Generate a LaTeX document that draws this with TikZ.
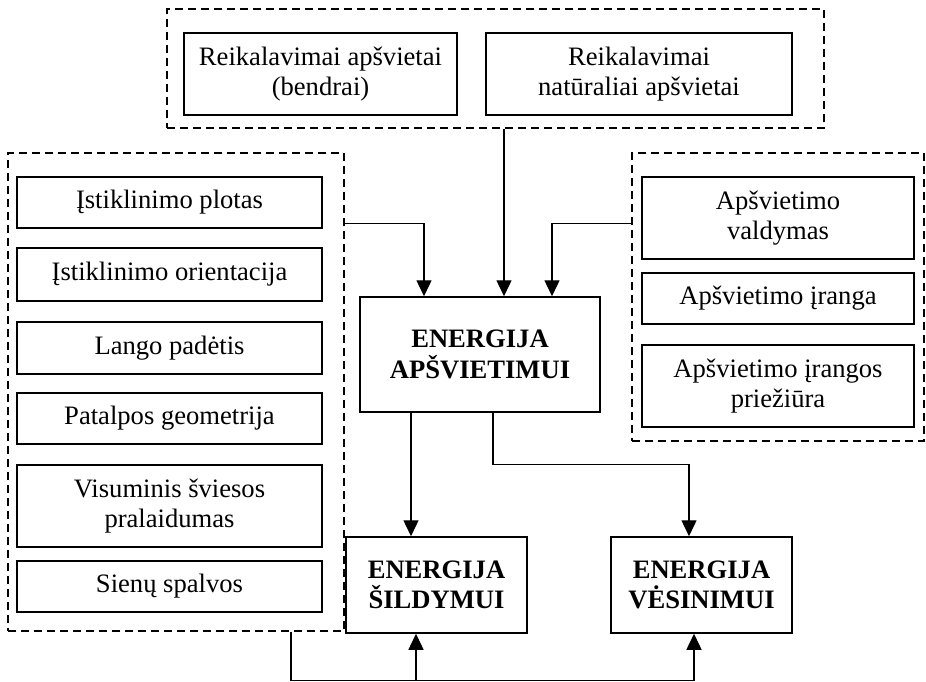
\documentclass[tikz,border=0pt]{standalone}
\usepackage{fontspec}
\setmainfont{Liberation Serif}
\usetikzlibrary{arrows.meta}

\begin{document}
\begin{tikzpicture}[x=1pt, y=-1pt,
        box/.style={draw, rectangle, line width=1.5pt, inner sep=0pt, align=center,
            font=\fontsize{26.6}{30.5}\selectfont},
        bold/.style={box, font=\fontsize{26.6}{30.5}\selectfont\bfseries},
        group/.style={draw, rectangle, line width=1.4pt, dash pattern=on 8pt off 5pt, inner sep=0pt},
        arr/.style={-{Triangle[length=16pt,width=15pt]}, line width=1.4pt}]
        \useasboundingbox (0,0) rectangle (926,682);

        % Dashed groups
        \node[group, minimum width=657pt, minimum height=119pt] (grpT) at (495.5,68.5) {};
        \node[group, minimum width=336pt, minimum height=478pt] (grpL) at (176,392) {};
        \node[group, minimum width=292pt, minimum height=288pt] (grpR) at (778,297) {};

        % Requirements
        \node[box, minimum width=273pt, minimum height=82pt] (reqGen) at (320.5,74) {Reikalavimai apšvietai\\(bendrai)};
        \node[box, minimum width=306pt, minimum height=82pt] (reqNat) at (639,74) {Reikalavimai\\natūraliai apšvietai};

        % Window and room factors
        \node[box, minimum width=305pt, minimum height=51pt] (glzArea) at (169.5,202.5) {Įstiklinimo plotas};
        \node[box, minimum width=305pt, minimum height=53pt] (glzOrient) at (169.5,274.5) {Įstiklinimo orientacija};
        \node[box, minimum width=305pt, minimum height=52pt] (winPos) at (169.5,348) {Lango padėtis};
        \node[box, minimum width=305pt, minimum height=51pt] (roomGeom) at (169.5,418.5) {Patalpos geometrija};
        \node[box, minimum width=305pt, minimum height=82pt] (lightTrans) at (169.5,506) {Visuminis šviesos\\pralaidumas};
        \node[box, minimum width=305pt, minimum height=51pt] (wallCol) at (169.5,586.5) {Sienų spalvos};

        % Lighting system factors
        \node[box, minimum width=272pt, minimum height=82pt] (ltCtrl) at (778,218) {Apšvietimo\\valdymas};
        \node[box, minimum width=272pt, minimum height=51pt] (ltEquip) at (778,298.5) {Apšvietimo įranga};
        \node[box, minimum width=272pt, minimum height=82pt] (ltMaint) at (778,386) {Apšvietimo įrangos\\priežiūra};

        % Energy boxes
        \node[bold, minimum width=240pt, minimum height=115pt] (apsv) at (480,354.5) {ENERGIJA\\APŠVIETIMUI};
        \node[bold, minimum width=181pt, minimum height=96pt] (heat) at (436.5,585) {ENERGIJA\\ŠILDYMUI};
        \node[bold, minimum width=181pt, minimum height=96pt] (cool) at (701.5,585) {ENERGIJA\\VĖSINIMUI};

        % Arrows into lighting energy
        \draw[arr] ([yshift=-71pt]grpL.north east) -| ([xshift=-56pt]apsv.north);
        \draw[arr] ([xshift=8.5pt]grpT.south) -- ([xshift=24pt]apsv.north);
        \draw[arr] ([yshift=-71pt]grpR.north west) -| ([xshift=72pt]apsv.north);

        % Arrows out of lighting energy
        \draw[arr] ([xshift=-69pt]apsv.south) -- ([xshift=-25.5pt]heat.north);
        \draw[arr] ([xshift=13pt]apsv.south) -- ++(0,52) -| ([xshift=-12.5pt]cool.north);

        % Arrows from the left group
        \draw[arr] ([xshift=115pt]grpL.south) -- ++(0,49) -| ([xshift=-7.5pt]cool.south);
        \draw[arr] ([xshift=-20.5pt]heat.south) ++(0,47) -- ([xshift=-20.5pt]heat.south);
    \end{tikzpicture}
\end{document}
